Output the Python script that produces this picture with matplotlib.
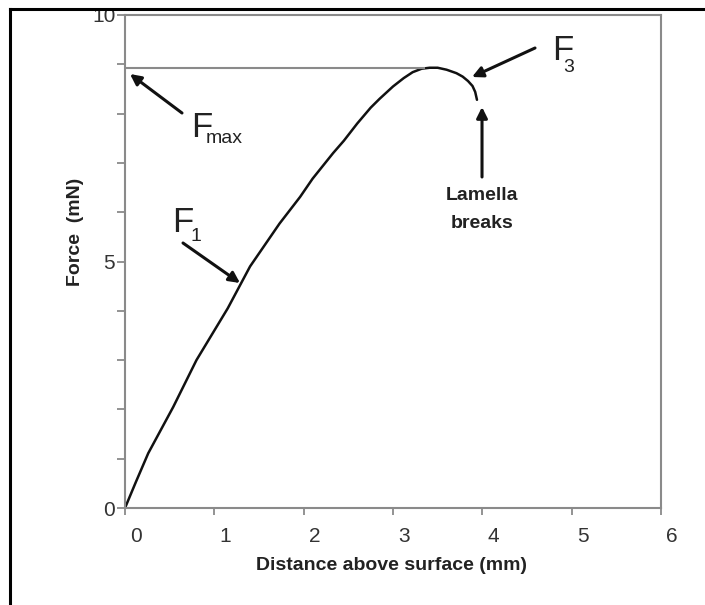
import matplotlib
matplotlib.use("Agg")
import matplotlib.pyplot as plt
from matplotlib.lines import Line2D
from matplotlib.transforms import ScaledTranslation

plt.rcParams['font.family'] = ['Liberation Sans', 'DejaVu Sans']

# Data
distance = [0.0, 0.12, 0.26, 0.54, 0.80, 1.15, 1.30, 1.40, 1.73, 1.96, 2.10, 2.33, 2.45,
            2.60, 2.75, 2.85, 3.00, 3.12, 3.22, 3.32, 3.41, 3.50, 3.60, 3.71, 3.78,
            3.84, 3.89, 3.92, 3.94]
force = [0.0, 0.52, 1.11, 2.05, 3.00, 4.05, 4.56, 4.90, 5.77, 6.31, 6.68, 7.20, 7.45,
         7.80, 8.12, 8.30, 8.55, 8.72, 8.84, 8.91, 8.93, 8.93, 8.89, 8.82, 8.75,
         8.66, 8.56, 8.44, 8.28]
f_max = 8.92
f_max_x_end = 3.35
x_ticks = [0, 1, 2, 3, 4, 5, 6]
y_major = [0, 5, 10]
y_minor = [1, 2, 3, 4, 6, 7, 8, 9]

fig = plt.figure(figsize=(7.05, 6.05), dpi=100)
ax = fig.add_axes([125/705, 1-508/605, (661-125)/705, (508-15)/605])

spine_c = '#8a8a8a'
ax.plot(distance, force, color='#111111', lw=1.8, solid_capstyle='round',
        solid_joinstyle='round')
ax.plot([0, f_max_x_end], [f_max, f_max], color=spine_c, lw=1.5)

ax.set_xlim(0, 6)
ax.set_ylim(0, 10)
for s in ax.spines.values():
    s.set_color(spine_c)
    s.set_linewidth(1.5)

ax.set_xticks(x_ticks)
ax.set_xticklabels([str(v) for v in x_ticks])
ax.set_yticks(y_major)
ax.set_yticklabels([str(v) for v in y_major])
ax.set_yticks(y_minor, minor=True)
ax.tick_params(axis='x', direction='out', length=5, width=1.3, color=spine_c,
               labelsize=15, labelcolor='#333333', pad=9)
ax.tick_params(axis='y', which='both', direction='out', length=5.5, width=1.3,
               color=spine_c, labelsize=15, labelcolor='#333333', pad=1.5)
off = ScaledTranslation(11/100, 0, fig.dpi_scale_trans)
for lab in ax.get_xticklabels():
    lab.set_transform(lab.get_transform() + off)

fig.text(392/705, 1-565/605, 'Distance above surface (mm)', ha='center', va='center',
         fontsize=14, fontweight='bold', color='#222222')
fig.text(75/705, 1-232/605, 'Force  (mN)', ha='center', va='center', rotation=90,
         fontsize=14, fontweight='bold', color='#222222')

arrow_kw = dict(arrowstyle='-|>', color='#111111', lw=2.2, mutation_scale=16,
                shrinkA=0, shrinkB=0)

def px(x, y):
    return ((x-125)/89.33, (508-y)/49.3)

# Fmax
ax.annotate('', xy=px(130, 74), xytext=px(182, 113), arrowprops=arrow_kw)
fig.text(191/705, 1-137/605, 'F', fontsize=25, color='#222222', ha='left', va='baseline')
fig.text(206/705, 1-143/605, 'max', fontsize=14, color='#222222', ha='left', va='baseline')

# F1
ax.annotate('', xy=px(240, 283), xytext=px(183, 243), arrowprops=arrow_kw)
fig.text(172/705, 1-232/605, 'F', fontsize=25, color='#222222', ha='left', va='baseline')
fig.text(190/705, 1-241/605, '1', fontsize=14, color='#222222', ha='left', va='baseline')

# F3
ax.annotate('', xy=px(472, 77), xytext=px(535, 48), arrowprops=arrow_kw)
fig.text(552/705, 1-60/605, 'F', fontsize=25, color='#222222', ha='left', va='baseline')
fig.text(563/705, 1-72/605, '3', fontsize=14, color='#222222', ha='left', va='baseline')

# Lamella breaks
ax.annotate('', xy=px(482, 107), xytext=px(482, 177), arrowprops=arrow_kw)
fig.text(482/705, 1-196/605, 'Lamella', fontsize=14, fontweight='bold', color='#222222',
         ha='center', va='center')
fig.text(482/705, 1-223/605, 'breaks', fontsize=14, fontweight='bold', color='#222222',
         ha='center', va='center')

# Figure frame (left and top)
fig.add_artist(Line2D([10/705, 10/705], [0, 1-9/605], color='black', lw=2.2,
                      transform=fig.transFigure))
fig.add_artist(Line2D([10/705, 1], [1-9/605, 1-9/605], color='black', lw=2.2,
                      transform=fig.transFigure))

fig.savefig('out.png', dpi=100)
